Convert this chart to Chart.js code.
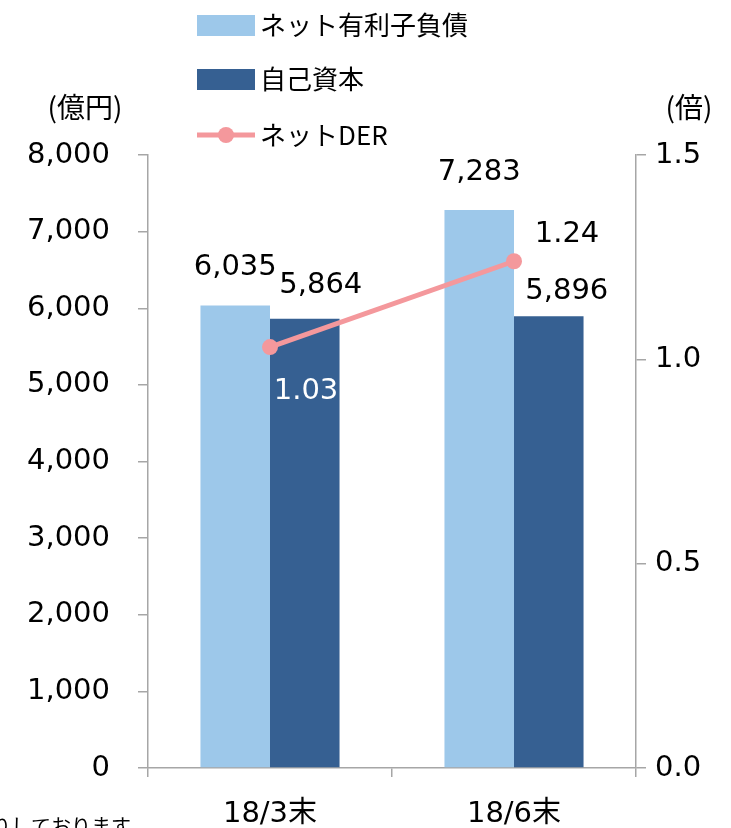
<!DOCTYPE html>
<html>
<head>
<meta charset="utf-8">
<script src="https://cdn.jsdelivr.net/npm/chart.js@4.4.1/dist/chart.umd.min.js"></script>
<style>
  body { margin: 0; background: #fff; }
  canvas { display: block; }
</style>
</head>
<body>
<canvas id="der" width="731" height="828"></canvas>
<script>
const categories = ['18/3末', '18/6末'];
const netDebt = [6035, 7283];
const equity = [5864, 5896];
const netDer = [1.03, 1.24];
const leftTicks = [0, 1000, 2000, 3000, 4000, 5000, 6000, 7000, 8000];
const rightTicks = [0, 0.5, 1.0, 1.5];

const seriesNames = ['ネット有利子負債', '自己資本', 'ネットDER'];
const lightBlue = '#9DC8EA';
const darkBlue = '#366092';
const pink = '#F4989C';
const axisGray = '#A6A6A6';
const numFont = '"DejaVu Sans", "Noto Sans CJK JP", sans-serif';
const jpFont = '"Noto Sans CJK JP", sans-serif';

// label offsets from each mark (px), per dataset
const labelShift = [
    [[0, -38], [0, -37]],
    [[16, -33], [18, -25]],
    [[36, 44], [53, -27]]
];
const labelColor = [['#000', '#000'], ['#000', '#000'], ['#fff', '#000']];

const extras = {
    id: 'extras',
    afterDatasetsDraw(chart) {
        const ctx = chart.ctx;
        ctx.save();
        ctx.font = '29px ' + numFont;
        ctx.textAlign = 'center';
        ctx.textBaseline = 'middle';
        chart.data.datasets.forEach((ds, i) => {
            chart.getDatasetMeta(i).data.forEach((el, j) => {
                const v = ds.data[j];
                const txt = i === 2 ? v.toFixed(2) : v.toLocaleString('en-US');
                ctx.fillStyle = labelColor[i][j];
                ctx.fillText(txt, el.x + labelShift[i][j][0], el.y + labelShift[i][j][1]);
            });
        });
        ctx.restore();
    },
    afterDraw(chart) {
        const ctx = chart.ctx;
        ctx.save();
        // legend
        const rows = [25, 79, 135];
        ctx.fillStyle = lightBlue;
        ctx.fillRect(197, 15, 58, 21);
        ctx.fillStyle = darkBlue;
        ctx.fillRect(197, 69, 58, 21);
        ctx.strokeStyle = pink;
        ctx.lineWidth = 5;
        ctx.beginPath();
        ctx.moveTo(197, rows[2]);
        ctx.lineTo(255, rows[2]);
        ctx.stroke();
        ctx.fillStyle = pink;
        ctx.beginPath();
        ctx.arc(226, rows[2], 8, 0, Math.PI * 2);
        ctx.fill();
        ctx.fillStyle = '#000';
        ctx.font = '26px ' + jpFont;
        ctx.textAlign = 'left';
        ctx.textBaseline = 'middle';
        seriesNames.forEach((n, k) => ctx.fillText(n, 260, rows[k]));
        // axis titles
        ctx.font = '28px ' + jpFont;
        ctx.textAlign = 'center';
        ctx.fillText('(億円)', 85, 107);
        ctx.fillText('(倍)', 689, 107);
        // cut-off footnote
        ctx.font = '20px ' + jpFont;
        ctx.textAlign = 'left';
        ctx.textBaseline = 'alphabetic';
        ctx.fillText('りしております', -9, 834);
        ctx.restore();
    }
};

new Chart(document.getElementById('der'), {
    type: 'bar',
    data: {
        labels: categories,
        datasets: [
            {
                label: seriesNames[0],
                data: netDebt,
                backgroundColor: lightBlue,
                yAxisID: 'y',
                order: 1,
                categoryPercentage: 0.57,
                barPercentage: 1.0
            },
            {
                label: seriesNames[1],
                data: equity,
                backgroundColor: darkBlue,
                yAxisID: 'y',
                order: 1,
                categoryPercentage: 0.57,
                barPercentage: 1.0
            },
            {
                type: 'line',
                label: seriesNames[2],
                data: netDer,
                yAxisID: 'y1',
                order: 0,
                borderColor: pink,
                backgroundColor: pink,
                borderWidth: 5,
                pointRadius: 8,
                pointBorderWidth: 0,
                pointBackgroundColor: pink
            }
        ]
    },
    options: {
        responsive: false,
        animation: false,
        layout: { padding: { top: 155, left: 0, right: 0, bottom: 0 } },
        plugins: {
            legend: { display: false },
            tooltip: { enabled: false }
        },
        scales: {
            x: {
                offset: true,
                grid: { drawOnChartArea: false, offset: true, tickLength: 9, color: axisGray, lineWidth: 1.5 },
                border: { color: axisGray, width: 1.5 },
                ticks: { color: '#000', font: { family: numFont, size: 29 }, padding: 20 },
                afterFit(s) { s.height = 60; }
            },
            y: {
                position: 'left',
                min: 0,
                max: 8000,
                afterBuildTicks(s) { s.ticks = leftTicks.map(v => ({ value: v })); },
                grid: { drawOnChartArea: false, tickLength: 10, color: axisGray, lineWidth: 1.5 },
                border: { color: axisGray, width: 1.5 },
                ticks: {
                    color: '#000',
                    font: { family: numFont, size: 29 },
                    padding: 28,
                    callback: v => v.toLocaleString('en-US')
                },
                afterFit(s) { s.width = 148; }
            },
            y1: {
                position: 'right',
                min: 0,
                max: 1.5,
                afterBuildTicks(s) { s.ticks = rightTicks.map(v => ({ value: v })); },
                grid: { drawOnChartArea: false, tickLength: 10, color: axisGray, lineWidth: 1.5 },
                border: { color: axisGray, width: 1.5 },
                ticks: {
                    color: '#000',
                    font: { family: numFont, size: 29 },
                    padding: 9,
                    callback: v => Number(v).toFixed(1)
                },
                afterFit(s) { s.width = 95; }
            }
        }
    },
    plugins: [extras]
});
</script>
</body>
</html>
